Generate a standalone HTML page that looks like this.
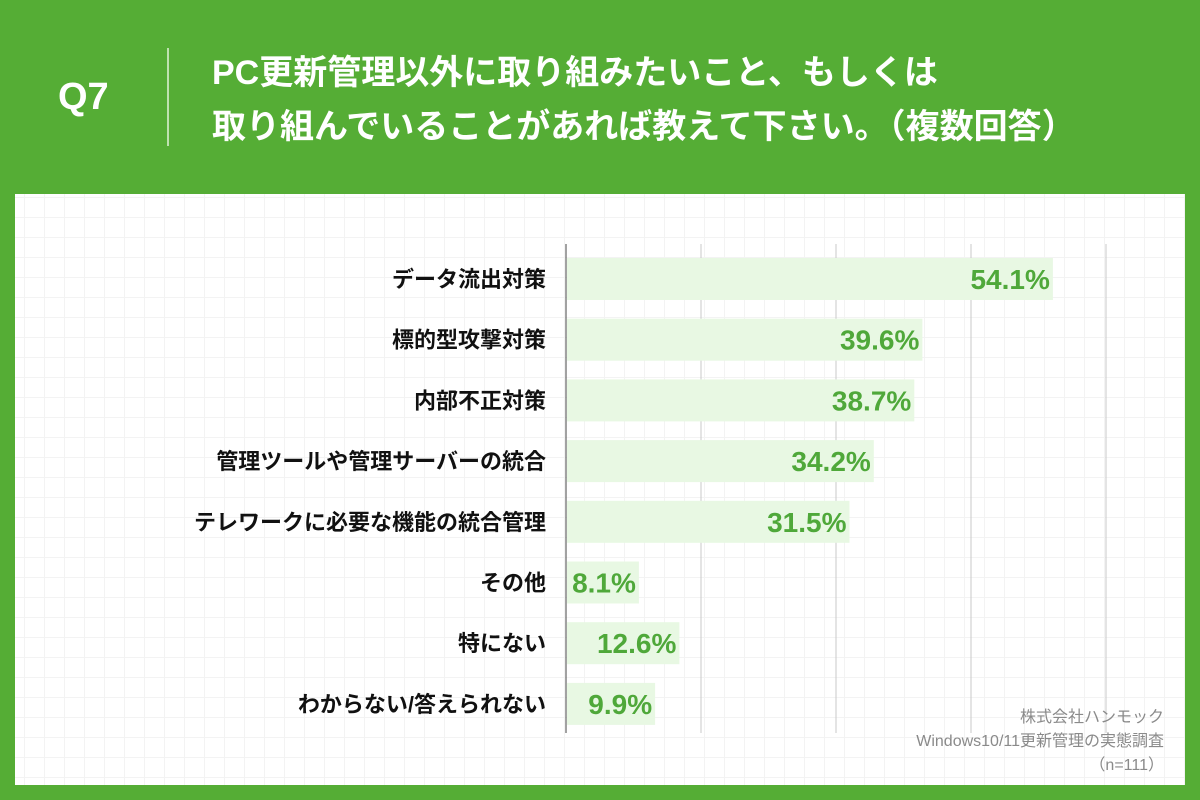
<!DOCTYPE html>
<html><head><meta charset="utf-8"><style>
body{margin:0;width:1200px;height:800px;background:#55ad35;position:relative;overflow:hidden;font-family:"Liberation Sans","Noto Sans CJK JP",sans-serif}
.panel{position:absolute;left:15px;top:194px;width:1170px;height:591px;background:#fff;
background-image:linear-gradient(#f3f3f3 1px,transparent 1px),linear-gradient(90deg,#f3f3f3 1px,transparent 1px);background-size:20px 20px;background-position:9px 3px}
.q{position:absolute;left:58px;top:76px;color:#fff;font-size:38px;font-weight:bold}
.sep{position:absolute;left:167px;top:48px;width:2px;height:98px;background:#bfe2b0}
.t{position:absolute;left:212px;top:46px;color:#fff;font-size:34px;font-weight:bold;line-height:54px;white-space:nowrap}
.src{position:absolute;right:36px;top:706px;text-align:right;color:#8a8a8a;font-size:16px;line-height:24px}
</style></head><body>
<div class="panel"></div>
<div class="q">Q7</div>
<div class="sep"></div>
<div class="t">PC更新管理以外に取り組みたいこと、もしくは<br>取り組んでいることがあれば教えて下さい。（複数回答）</div>
<svg id="c" width="1200" height="800" style="position:absolute;left:0;top:0"></svg>
<div class="src">株式会社ハンモック<br>Windows10/11更新管理の実態調査<br>（n=111）</div>
<script>
const categories=["データ流出対策","標的型攻撃対策","内部不正対策","管理ツールや管理サーバーの統合","テレワークに必要な機能の統合管理","その他","特にない","わからない/答えられない"];
const values=[54.1,39.6,38.7,34.2,31.5,8.1,12.6,9.9];
const gridTicks=[0,15,30,45,60];
const svg=document.getElementById('c'),NS='http://www.w3.org/2000/svg';
const x=v=>566+v*9, y=i=>279+i*60.7;
function mk(t,a){const e=document.createElementNS(NS,t);for(const k in a)e.setAttribute(k,a[k]);svg.appendChild(e);return e;}
gridTicks.forEach(t=>{const l=mk('line',{x1:x(t),x2:x(t),y1:244,y2:733,stroke:t===0?'#444':'#c8c8c8','stroke-width':1});

});
categories.forEach((c,i)=>{
const r=mk('rect',{x:x(0)+1,y:y(i)-21,width:x(values[i])-x(0)-1,height:42,fill:'#e8f8e3'});


const v=mk('text',{x:x(values[i])-3,y:y(i)+10,'text-anchor':'end','font-size':28,'font-weight':'bold',fill:'#4fa83a'});
v.textContent=values[i]+'%';


const lb=mk('text',{x:546,y:y(i)+8,'text-anchor':'end','font-size':22,'font-weight':'bold',fill:'#111'});
lb.textContent=c;


});
</script>
</body></html>
